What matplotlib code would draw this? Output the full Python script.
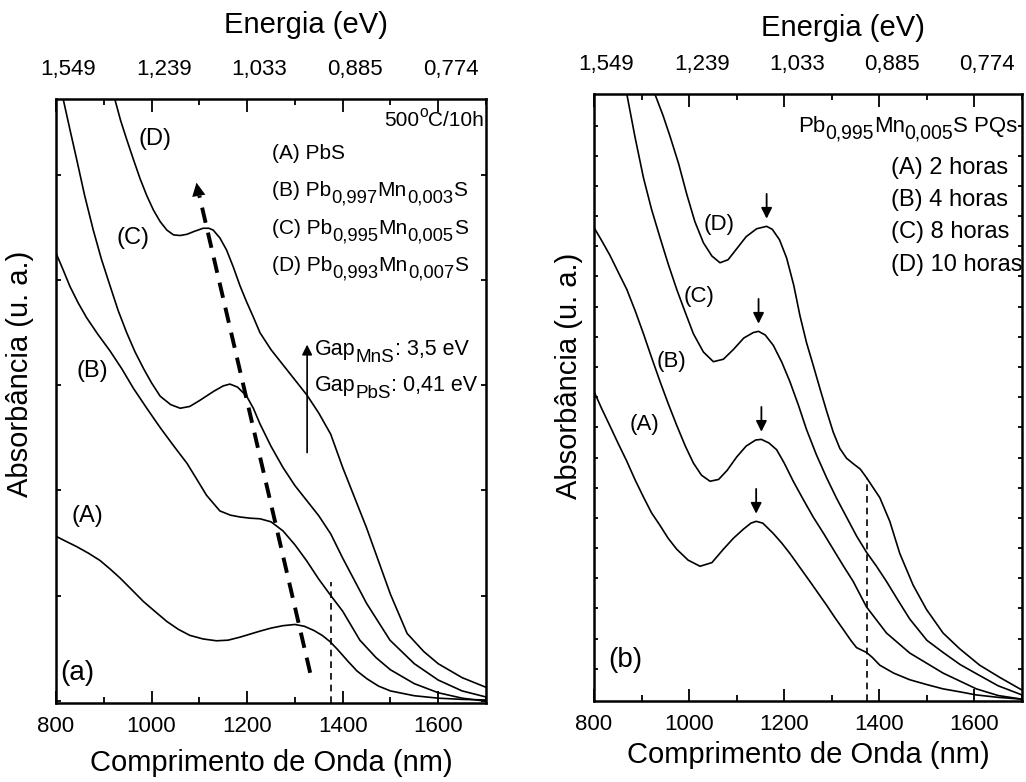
import matplotlib
matplotlib.use("Agg")
import matplotlib.pyplot as plt
import numpy as np
from matplotlib.ticker import FixedLocator
from matplotlib.transforms import offset_copy

plt.rcParams['font.family'] = ['Liberation Sans', 'DejaVu Sans']

# ---------------- panel (a): PbS and Pb(1-x)Mn(x)S, 500 C / 10 h ----------------
a_A_nm = [800, 820, 843, 868, 892, 913, 934, 958, 983, 1008, 1032, 1056, 1080, 1108, 1136, 1160,
          1185, 1206, 1227, 1250, 1275, 1300, 1320, 1340, 1357, 1373, 1390, 1410, 1430, 1451,
          1475, 1500, 1550, 1600, 1650, 1700]
a_A_y = [0.276, 0.268, 0.259, 0.248, 0.236, 0.222, 0.207, 0.188, 0.168, 0.151, 0.135, 0.122, 0.112,
         0.106, 0.103, 0.104, 0.109, 0.114, 0.119, 0.124, 0.128, 0.130, 0.127, 0.120, 0.112, 0.102,
         0.088, 0.070, 0.053, 0.040, 0.028, 0.020, 0.012, 0.008, 0.006, 0.005]

a_B_nm = [800, 815, 829, 846, 864, 888, 913, 938, 962, 990, 1018, 1046, 1074, 1095, 1115, 1130,
          1143, 1165, 1185, 1206, 1227, 1250, 1275, 1300, 1325, 1350, 1375, 1400, 1436, 1470,
          1500, 1550, 1600, 1650, 1700]
a_B_y = [0.745, 0.717, 0.690, 0.663, 0.638, 0.610, 0.583, 0.553, 0.521, 0.488, 0.456, 0.426, 0.397,
         0.370, 0.344, 0.330, 0.318, 0.311, 0.308, 0.306, 0.305, 0.300, 0.285, 0.262, 0.235, 0.205,
         0.178, 0.152, 0.104, 0.075, 0.055, 0.032, 0.017, 0.008, 0.003]

a_C_nm = [815, 829, 843, 860, 878, 895, 913, 930, 948, 965, 983, 1000, 1018, 1040, 1060, 1080, 1101,
          1130, 1150, 1164, 1180, 1199, 1213, 1227, 1250, 1275, 1300, 1325, 1350, 1375, 1400,
          1450, 1499, 1550, 1600, 1650, 1700]
a_C_y = [1.0, 0.950, 0.901, 0.840, 0.783, 0.735, 0.691, 0.650, 0.613, 0.582, 0.554, 0.530, 0.508,
         0.494, 0.488, 0.491, 0.501, 0.516, 0.525, 0.528, 0.523, 0.508, 0.488, 0.462, 0.425, 0.390,
         0.360, 0.335, 0.310, 0.280, 0.240, 0.165, 0.104, 0.065, 0.038, 0.020, 0.010]

a_D_nm = [923, 935, 948, 962, 976, 990, 1004, 1018, 1032, 1046, 1060, 1074, 1090, 1108, 1120, 1129,
          1143, 1157, 1171, 1185, 1199, 1213, 1227, 1250, 1275, 1300, 1325, 1350, 1375, 1400,
          1450, 1500, 1535, 1570, 1600, 1650, 1700]
a_D_y = [1.0, 0.965, 0.933, 0.900, 0.868, 0.840, 0.816, 0.797, 0.783, 0.775, 0.774, 0.776, 0.781,
         0.786, 0.786, 0.783, 0.770, 0.750, 0.722, 0.691, 0.664, 0.639, 0.613, 0.585, 0.560, 0.535,
         0.510, 0.480, 0.445, 0.390, 0.290, 0.180, 0.115, 0.085, 0.065, 0.042, 0.026]

# ---------------- panel (b): Pb0.995Mn0.005S, annealing time ----------------
b_A_nm = [800, 816, 833, 851, 869, 886, 904, 921, 939, 956, 974, 998, 1023, 1048, 1072, 1093, 1114,
          1130, 1141, 1155, 1177, 1195, 1212, 1233, 1254, 1271, 1289, 1306, 1324, 1340, 1352, 1365,
          1373, 1385, 1401, 1430, 1464, 1500, 1534, 1570, 1604, 1650, 1700]
b_A_y = [0.510, 0.482, 0.454, 0.424, 0.395, 0.365, 0.336, 0.310, 0.289, 0.268, 0.250, 0.232, 0.222,
         0.228, 0.250, 0.268, 0.283, 0.293, 0.296, 0.293, 0.276, 0.260, 0.243, 0.220, 0.197, 0.178,
         0.158, 0.138, 0.118, 0.100, 0.088, 0.083, 0.080, 0.072, 0.059, 0.046, 0.035, 0.027, 0.020,
         0.015, 0.010, 0.006, 0.003]

b_B_nm = [800, 815, 833, 850, 869, 887, 904, 921, 939, 956, 974, 992, 1009, 1026, 1044, 1062, 1080,
          1100, 1120, 1140, 1152, 1168, 1184, 1200, 1219, 1240, 1261, 1282, 1303, 1324, 1345, 1373,
          1415, 1464, 1534, 1604, 1650, 1700]
b_B_y = [0.780, 0.760, 0.735, 0.708, 0.678, 0.642, 0.605, 0.566, 0.526, 0.490, 0.454, 0.420, 0.392,
         0.372, 0.362, 0.365, 0.380, 0.402, 0.420, 0.430, 0.431, 0.425, 0.414, 0.392, 0.362, 0.332,
         0.303, 0.277, 0.250, 0.223, 0.197, 0.155, 0.112, 0.079, 0.046, 0.020, 0.009, 0.003]

b_C_nm = [869, 886, 904, 921, 939, 956, 974, 992, 1009, 1030, 1051, 1072, 1093, 1115, 1135, 1146,
          1160, 1177, 1195, 1212, 1230, 1247, 1268, 1289, 1310, 1331, 1352, 1373, 1394, 1415, 1440,
          1464, 1500, 1534, 1570, 1604, 1650, 1700]
b_C_y = [1.0, 0.930, 0.862, 0.810, 0.763, 0.720, 0.678, 0.640, 0.605, 0.575, 0.559, 0.563, 0.579,
         0.598, 0.607, 0.609, 0.603, 0.586, 0.558, 0.526, 0.487, 0.447, 0.405, 0.368, 0.334, 0.303,
         0.272, 0.245, 0.222, 0.197, 0.165, 0.135, 0.100, 0.080, 0.060, 0.045, 0.025, 0.010]

b_D_nm = [928, 945, 960, 978, 995, 1012, 1030, 1048, 1065, 1082, 1100, 1120, 1142, 1163, 1175, 1190,
          1205, 1220, 1233, 1247, 1261, 1275, 1289, 1303, 1317, 1331, 1345, 1360, 1373, 1401, 1422,
          1443, 1471, 1499, 1534, 1569, 1611, 1653, 1700]
b_D_y = [1.0, 0.965, 0.930, 0.885, 0.835, 0.790, 0.755, 0.733, 0.722, 0.727, 0.745, 0.765, 0.778,
         0.782, 0.777, 0.760, 0.730, 0.685, 0.635, 0.590, 0.553, 0.515, 0.478, 0.443, 0.416, 0.400,
         0.391, 0.382, 0.368, 0.335, 0.296, 0.243, 0.191, 0.151, 0.112, 0.086, 0.059, 0.039, 0.018]

# exciton peak markers of panel (b)
b_peak_nm = [1141, 1152, 1146, 1163]
b_peak_y = [0.296, 0.431, 0.609, 0.782]

# axis ticks and energy scale
nm_major = [800, 1000, 1200, 1400, 1600]
nm_minor = [900, 1100, 1300, 1500, 1700]
energy_labels = ['1,549', '1,239', '1,033', '0,885', '0,774']
gap_nm = 1375                      # PbS gap position

W, H = 1026, 782
fig = plt.figure(figsize=(W / 100, H / 100), dpi=100)
axa = fig.add_axes([56 / W, (H - 703) / H, 430 / W, 604 / H])
axb = fig.add_axes([594 / W, (H - 701) / H, 428 / W, 607 / H])
renderer = fig.canvas.get_renderer()

LW = 1.2
TICK_FS = 16
LABEL_FS = 21


def rich_text(ax, x, y, parts, size, ha='left'):
    """Draw text made of normal / subscript / superscript pieces, baseline aligned."""
    scale = {'n': 1.0, 'b': 0.88, 'p': 0.75}
    shift = {'n': 0.0, 'b': -0.32, 'p': 0.45}
    widths = []
    for s, m in parts:
        t = ax.text(0, 0, s, fontsize=size * scale[m], transform=ax.transAxes)
        widths.append(t.get_window_extent(renderer).width * 72 / fig.dpi)
        t.remove()
    total = sum(widths)
    dx = {'left': 0.0, 'right': -total, 'center': -total / 2}[ha]
    for (s, m), w in zip(parts, widths):
        tr = offset_copy(ax.transAxes, fig=fig, x=dx, y=shift[m] * size, units='points')
        ax.text(x, y, s, fontsize=size * scale[m], transform=tr, ha='left', va='baseline')
        dx += w


def style_axes(ax, yticks, ytick_len, xlabelpad, ylabel_x, ylabel_y, energy_y):
    ax.set_xlim(800, 1700)
    ax.set_ylim(0, 1)
    for s in ax.spines.values():
        s.set_linewidth(1.8)
    ax.xaxis.set_major_locator(FixedLocator(nm_major))
    ax.xaxis.set_minor_locator(FixedLocator(nm_minor))
    ax.yaxis.set_major_locator(FixedLocator(yticks))
    ax.set_yticklabels([])
    ax.tick_params(which='both', direction='in', top=True, right=True, width=1.3,
                   labelsize=TICK_FS, pad=9)
    ax.tick_params(axis='x', which='major', length=9)
    ax.tick_params(axis='x', which='minor', length=4.5)
    ax.tick_params(axis='y', which='major', length=ytick_len)
    ax.set_xlabel('Comprimento de Onda (nm)', fontsize=LABEL_FS, labelpad=xlabelpad)
    ax.set_ylabel('Absorbância (u. a.)', fontsize=LABEL_FS)
    ax.yaxis.set_label_coords(ylabel_x, ylabel_y)
    # energy scale along the top edge
    for nm, lab in zip(nm_major, energy_labels):
        ax.annotate(lab, xy=(nm, 1), xycoords=('data', 'axes fraction'),
                    xytext=(9, 14), textcoords='offset points',
                    ha='center', va='bottom', fontsize=TICK_FS)
    ax.text(0.581, energy_y, 'Energia (eV)', transform=ax.transAxes, ha='center',
            va='center', fontsize=LABEL_FS)


# ---------------- panel (a) ----------------
style_axes(axa, [0.003, 0.177, 0.352, 0.527, 0.701, 0.875], 3.5, 9, -0.052, 0.545, 1.1225)
for xs, ys in [(a_A_nm, a_A_y), (a_B_nm, a_B_y), (a_C_nm, a_C_y), (a_D_nm, a_D_y)]:
    axa.plot(xs, ys, color='k', lw=LW, solid_joinstyle='round')

axa.plot([gap_nm, gap_nm], [0, 0.2], color='k', lw=1.2, ls=(0, (4, 3)))
# trend of the exciton peak with Mn content
axa.plot([1332, 1100], [0.05, 0.84], color='k', lw=2.8, ls=(0, (4, 2.6)))
axa.annotate('', xy=(1093, 0.866), xytext=(1101, 0.83),
             arrowprops=dict(arrowstyle='-|>', color='k', lw=0, mutation_scale=24))

axa.text(844, 0.05, '(a)', fontsize=20, ha='center', va='center')
axa.text(865, 0.31, '(A)', fontsize=17, ha='center', va='center')
axa.text(875, 0.55, '(B)', fontsize=17, ha='center', va='center')
axa.text(962, 0.77, '(C)', fontsize=17, ha='center', va='center')
axa.text(1007, 0.934, '(D)', fontsize=17, ha='center', va='center')

rich_text(axa, 0.995, 0.955, [('500', 'n'), ('o', 'p'), ('C/10h', 'n')], 15, ha='right')
legend_a = [[('(A) PbS', 'n')],
            [('(B) Pb', 'n'), ('0,997', 'b'), ('Mn', 'n'), ('0,003', 'b'), ('S', 'n')],
            [('(C) Pb', 'n'), ('0,995', 'b'), ('Mn', 'n'), ('0,005', 'b'), ('S', 'n')],
            [('(D) Pb', 'n'), ('0,993', 'b'), ('Mn', 'n'), ('0,007', 'b'), ('S', 'n')]]
for i, parts in enumerate(legend_a):
    rich_text(axa, 0.503, 0.901 - i * 0.062, parts, 15)

axa.annotate('', xy=(0.584, 0.598), xytext=(0.584, 0.41), xycoords='axes fraction',
             arrowprops=dict(arrowstyle='-|>', color='k', lw=1.2, mutation_scale=15))
rich_text(axa, 0.603, 0.576, [('Gap', 'n'), ('MnS', 'b'), (': 3,5 eV', 'n')], 15.5)
rich_text(axa, 0.603, 0.517, [('Gap', 'n'), ('PbS', 'b'), (': 0,41 eV', 'n')], 15.5)

# ---------------- panel (b) ----------------
style_axes(axb, list(np.linspace(0.053, 0.948, 19)), 3.0, 5, -0.025, 0.535, 1.109)
for xs, ys in [(b_A_nm, b_A_y), (b_B_nm, b_B_y), (b_C_nm, b_C_y), (b_D_nm, b_D_y)]:
    axb.plot(xs, ys, color='k', lw=LW, solid_joinstyle='round')

axb.plot([gap_nm, gap_nm], [0, 0.368], color='k', lw=1.2, ls=(0, (4, 3)))
for px, py in zip(b_peak_nm, b_peak_y):
    axb.annotate('', xy=(px, py + 0.008), xytext=(px, py + 0.058),
                 arrowprops=dict(arrowstyle='-|>', color='k', lw=1.3, mutation_scale=16))

axb.text(865, 0.068, '(b)', fontsize=20, ha='center', va='center')
axb.text(907, 0.455, '(A)', fontsize=16, ha='center', va='center')
axb.text(962, 0.56, '(B)', fontsize=16, ha='center', va='center')
axb.text(1020, 0.666, '(C)', fontsize=16, ha='center', va='center')
axb.text(1063, 0.785, '(D)', fontsize=16, ha='center', va='center')

rich_text(axb, 0.99, 0.938, [('Pb', 'n'), ('0,995', 'b'), ('Mn', 'n'), ('0,005', 'b'), ('S PQs', 'n')],
          16, ha='right')
legend_b = ['(A) 2 horas', '(B) 4 horas', '(C) 8 horas', '(D) 10 horas']
for i, t in enumerate(legend_b):
    axb.text(0.693, 0.878 - i * 0.053, t, transform=axb.transAxes, fontsize=17, va='center')

fig.savefig('out.png', dpi=100)
